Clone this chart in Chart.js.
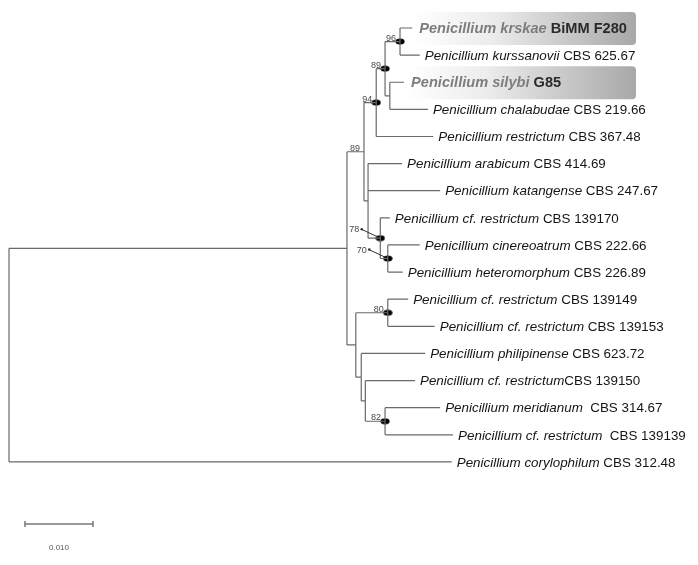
<!DOCTYPE html>
<html>
<head>
<meta charset="utf-8">
<script src="https://cdn.jsdelivr.net/npm/chart.js@4.4.0/dist/chart.umd.min.js"></script>
<style>
  html, body { margin: 0; padding: 0; background: #fff; }
  #wrap { width: 698px; height: 565px; }
</style>
</head>
<body>
<div id="wrap"><canvas id="tree" width="698" height="565"></canvas></div>
<script>
// leaves, top to bottom
const taxa = [
  'Penicillium krskae', 'Penicillium kurssanovii', 'Penicillium silybi', 'Penicillium chalabudae',
  'Penicillium restrictum', 'Penicillium arabicum', 'Penicillium katangense', 'Penicillium cf. restrictum',
  'Penicillium cinereoatrum', 'Penicillium heteromorphum', 'Penicillium cf. restrictum', 'Penicillium cf. restrictum',
  'Penicillium philipinense', 'Penicillium cf. restrictum', 'Penicillium meridianum', 'Penicillium cf. restrictum',
  'Penicillium corylophilum'
];
const strains = [
  ' BiMM F280', ' CBS 625.67', ' G85', ' CBS 219.66', ' CBS 367.48', ' CBS 414.69', ' CBS 247.67', ' CBS 139170',
  ' CBS 222.66', ' CBS 226.89', ' CBS 139149', ' CBS 139153', ' CBS 623.72', 'CBS 139150', '  CBS 314.67',
  '  CBS 139139', ' CBS 312.48'
];
const highlight = [true, false, true, false, false, false, false, false, false, false, false, false, false, false, false, false, false];
const tipParent = ['n96', 'n96', 'nSC', 'nSC', 'n94', 'M', 'M', 'n78', 'n70', 'n70', 'n80', 'n80', 'S', 'T', 'n82', 'n82', 'root'];
// distance from root (substitutions/site)
const tipDepth = [0.0593, 0.0604, 0.0581, 0.0616, 0.0624, 0.0578, 0.0634, 0.0560, 0.0604, 0.0579, 0.0587, 0.0626, 0.0612, 0.0597, 0.0634, 0.0653, 0.0651];

// internal nodes
const nodeNames   = ['root', 'I', 'U', 'n94', 'n89', 'n96', 'nSC', 'M', 'n78', 'n70', 'L', 'n80', 'S', 'T', 'n82'];
const nodeParent  = [null, 'root', 'I', 'U', 'n94', 'n89', 'n89', 'U', 'M', 'n78', 'I', 'L', 'L', 'S', 'T'];
const nodeDepth   = [0, 0.0497, 0.0522, 0.0540, 0.0553, 0.0575, 0.0560, 0.0528, 0.0546, 0.0557, 0.0510, 0.0557, 0.0518, 0.0524, 0.0553];
const nodeSupport = ['', '', '89', '94', '89', '96', '', '', '78', '70', '', '80', '', '', '82'];
const nodeDot     = [false, false, false, true, true, true, false, false, true, true, false, true, false, false, true];

const scaleBarLength = 0.010;
const scaleBarLabel = '0.010';

// ---- build tree geometry ----
const depth = {}, parentOf = {}, yPos = {}, children = {};
nodeNames.forEach((n, i) => { depth[n] = nodeDepth[i]; parentOf[n] = nodeParent[i]; });
const tipIds = taxa.map((t, i) => 'tip' + i);
tipIds.forEach((id, i) => { depth[id] = tipDepth[i]; parentOf[id] = tipParent[i]; yPos[id] = i; });
Object.keys(parentOf).forEach(id => {
  const p = parentOf[id];
  if (p) (children[p] = children[p] || []).push(id);
});
function getY(id) {
  if (yPos[id] !== undefined) return yPos[id];
  const ys = children[id].map(getY);
  yPos[id] = (Math.min(...ys) + Math.max(...ys)) / 2;
  return yPos[id];
}
getY('root');

const branchPts = [];
Object.keys(parentOf).forEach(id => {
  const p = parentOf[id];
  if (!p) return;
  branchPts.push({ x: depth[p], y: yPos[id] }, { x: depth[id], y: yPos[id] }, { x: null, y: null });
});
Object.keys(children).forEach(id => {
  const ys = children[id].map(c => yPos[c]);
  branchPts.push({ x: depth[id], y: Math.min(...ys) }, { x: depth[id], y: Math.max(...ys) }, { x: null, y: null });
});

const dotPts = nodeNames.filter((n, i) => nodeDot[i]).map(n => ({ x: depth[n], y: yPos[n] }));

const scaleBarY = 18.29;
const scaleBarPts = [{ x: 0.00235, y: scaleBarY }, { x: 0.00235 + scaleBarLength, y: scaleBarY }];

// oval node marker
const dotImg = document.createElement('canvas');
dotImg.width = 10; dotImg.height = 7;
(function () {
  const c = dotImg.getContext('2d');
  c.fillStyle = '#000';
  c.beginPath();
  c.ellipse(5, 3.5, 4.6, 3, 0, 0, Math.PI * 2);
  c.fill();
})();

const FONT = '"Liberation Sans", Arial, Helvetica, sans-serif';

const treeLabels = {
  id: 'treeLabels',
  beforeDatasetsDraw(chart) {
    const { ctx, scales: { x, y } } = chart;
    ctx.save();
    tipIds.forEach((id, i) => {
      if (!highlight[i]) return;
      const left = x.getPixelForValue(depth[id]) + 2;
      const right = x.getPixelForValue(0.0922);
      const cy = y.getPixelForValue(i);
      const top = cy - 16, h = 33;
      const g = ctx.createLinearGradient(left, 0, right, 0);
      g.addColorStop(0, 'rgba(255,255,255,1)');
      g.addColorStop(0.35, 'rgba(236,236,236,1)');
      g.addColorStop(1, 'rgba(168,168,168,1)');
      ctx.fillStyle = g;
      ctx.beginPath();
      ctx.roundRect(left, top, right - left, h, 4);
      ctx.fill();
    });
    ctx.restore();
  },
  afterDatasetsDraw(chart) {
    const { ctx, scales: { x, y } } = chart;
    ctx.save();
    ctx.textBaseline = 'middle';
    tipIds.forEach((id, i) => {
      let px = x.getPixelForValue(depth[id]) + 5;
      const py = y.getPixelForValue(i) + 1;
      if (highlight[i]) {
        px += 2;
        ctx.font = 'italic bold 14.6px ' + FONT;
        ctx.fillStyle = '#7d7d7d';
        ctx.fillText(taxa[i], px, py);
        px += ctx.measureText(taxa[i]).width;
        ctx.font = 'bold 14.6px ' + FONT;
        ctx.fillStyle = '#2a2a2a';
        ctx.fillText(strains[i], px, py);
      } else {
        ctx.font = 'italic 13.4px ' + FONT;
        ctx.fillStyle = '#151515';
        ctx.fillText(taxa[i], px, py);
        px += ctx.measureText(taxa[i]).width;
        ctx.font = '13.4px ' + FONT;
        ctx.fillText(strains[i], px, py);
      }
    });

    // bootstrap values
    ctx.font = '9px ' + FONT;
    ctx.fillStyle = '#4a4a4a';
    ctx.strokeStyle = '#333';
    ctx.lineWidth = 1;
    ctx.textAlign = 'right';
    ctx.textBaseline = 'alphabetic';
    nodeNames.forEach((n, i) => {
      if (!nodeSupport[i]) return;
      const nx = x.getPixelForValue(depth[n]);
      const ny = y.getPixelForValue(yPos[n]);
      if (n === 'n78' || n === 'n70') {
        const lx = nx - 21, ly = ny - 9;
        ctx.fillText(nodeSupport[i], lx, ly + 3);
        ctx.beginPath();
        ctx.moveTo(lx + 2, ly);
        ctx.lineTo(nx - 2, ny - 1);
        ctx.stroke();
        ctx.fillStyle = '#333';
        ctx.beginPath();
        ctx.arc(lx + 2.5, ly, 1.3, 0, Math.PI * 2);
        ctx.fill();
        ctx.fillStyle = '#4a4a4a';
      } else {
        ctx.fillText(nodeSupport[i], nx - 4, ny - 1);
      }
    });

    // scale bar label
    ctx.font = '8px ' + FONT;
    ctx.fillStyle = '#555';
    ctx.textAlign = 'center';
    ctx.textBaseline = 'middle';
    ctx.fillText(scaleBarLabel, x.getPixelForValue(0.00235 + scaleBarLength / 2), y.getPixelForValue(19.15));
    ctx.restore();
  }
};

new Chart(document.getElementById('tree'), {
  type: 'scatter',
  data: {
    datasets: [
      {
        label: 'branches',
        data: branchPts,
        showLine: true,
        spanGaps: false,
        borderColor: '#6a6a6a',
        borderWidth: 1.2,
        pointRadius: 0,
        tension: 0
      },
      {
        label: 'nodes',
        data: dotPts,
        pointStyle: dotImg,
        pointRadius: 4,
        showLine: false
      },
      {
        label: 'scale',
        data: scaleBarPts,
        showLine: true,
        borderColor: '#777',
        borderWidth: 1.5,
        pointStyle: 'line',
        rotation: 90,
        pointRadius: 3,
        pointBorderColor: '#777',
        pointBorderWidth: 1.5
      }
    ]
  },
  options: {
    responsive: false,
    animation: false,
    devicePixelRatio: 1,
    layout: { padding: 0, autoPadding: false },
    plugins: { legend: { display: false }, tooltip: { enabled: false } },
    events: [],
    scales: {
      x: { type: 'linear', display: false, min: -0.001324, max: 0.10132 },
      y: { type: 'linear', display: false, reverse: true, min: -1.032, max: 19.8 }
    }
  },
  plugins: [treeLabels]
});
</script>
</body>
</html>
